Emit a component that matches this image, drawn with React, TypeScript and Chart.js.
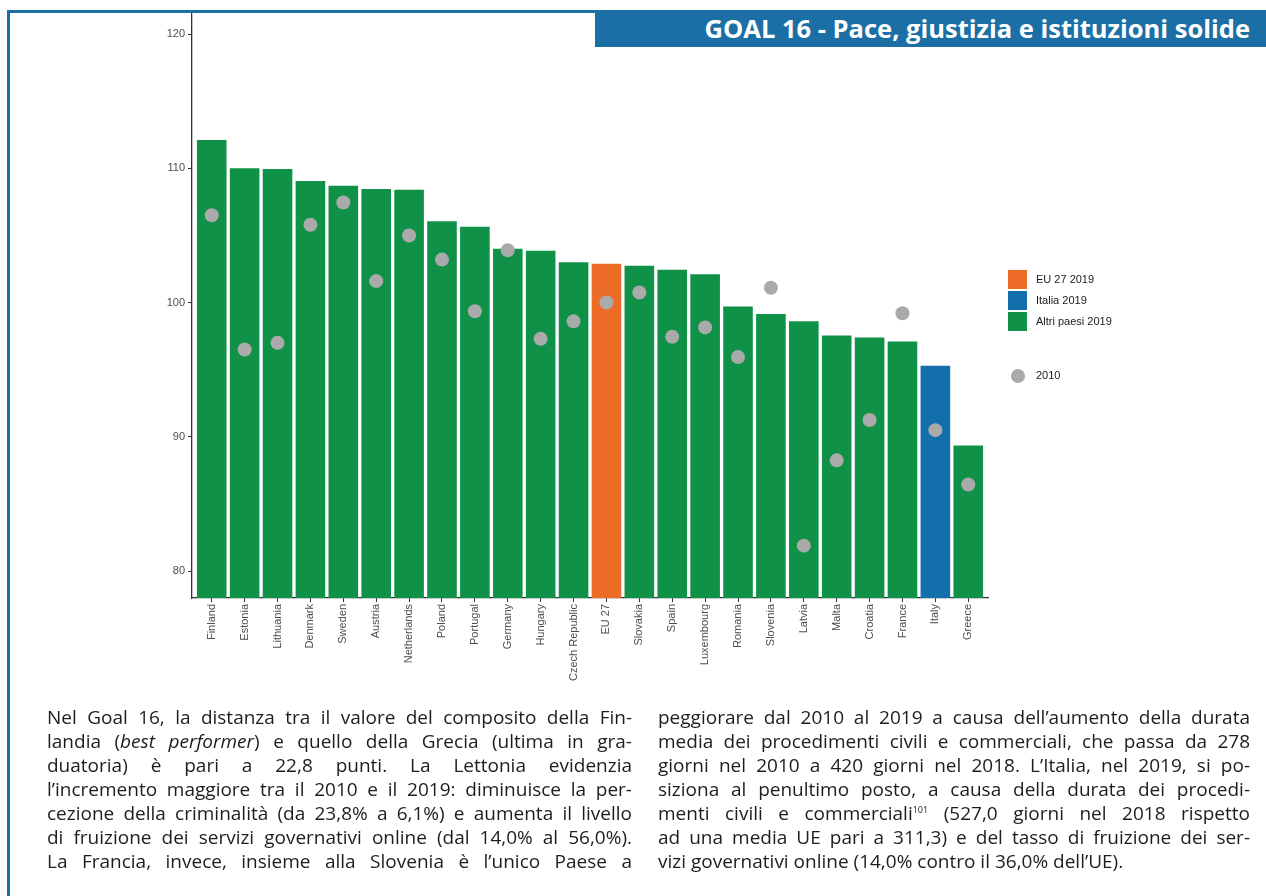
import React, { useEffect, useRef } from 'react';
import { Chart, registerables } from 'chart.js';

Chart.register(...registerables);

const categories = [
  'Finland', 'Estonia', 'Lithuania', 'Denmark', 'Sweden', 'Austria', 'Netherlands',
  'Poland', 'Portugal', 'Germany', 'Hungary', 'Czech Republic', 'EU 27', 'Slovakia',
  'Spain', 'Luxembourg', 'Romania', 'Slovenia', 'Latvia', 'Malta', 'Croatia', 'France',
  'Italy', 'Greece',
];

const values2019 = [
  112.1, 110.0, 109.95, 109.05, 108.7, 108.45, 108.4, 106.05, 105.65, 104.0, 103.85, 103.0,
  102.9, 102.75, 102.45, 102.1, 99.7, 99.15, 98.6, 97.55, 97.4, 97.1, 95.3, 89.35,
];

const values2010 = [
  106.5, 96.5, 97.0, 105.8, 107.45, 101.6, 105.0, 103.2, 99.35, 103.9, 97.3, 98.6,
  100.0, 100.75, 97.45, 98.15, 95.95, 101.1, 81.9, 88.25, 91.25, 99.2, 90.5, 86.45,
];

// group of each bar: 'eu' = EU 27 2019, 'it' = Italia 2019, 'other' = Altri paesi 2019
const groups = [
  'other', 'other', 'other', 'other', 'other', 'other', 'other', 'other', 'other', 'other',
  'other', 'other', 'eu', 'other', 'other', 'other', 'other', 'other', 'other', 'other',
  'other', 'other', 'it', 'other',
];

const yTicks = [80, 90, 100, 110, 120];

const GREEN = '#0f9147';
const ORANGE = '#eb6b27';
const BLUE = '#126fab';
const DOT = '#aaaaaa';
const FRAME = '#1b6fa5';

const groupColor: Record<string, string> = { eu: ORANGE, it: BLUE, other: GREEN };

const legendLabels = ['EU 27 2019', 'Italia 2019', 'Altri paesi 2019'];
const legendColors = [ORANGE, BLUE, GREEN];
const dotLabel = '2010';

const title = 'GOAL 16 - Pace, giustizia e istituzioni solide';

const leftLines: React.ReactNode[] = [
  'Nel Goal 16, la distanza tra il valore del composito della Fin-',
  <>landia (<i>best performer</i>) e quello della Grecia (ultima in gra-</>,
  'duatoria) è pari a 22,8 punti. La Lettonia evidenzia',
  'l’incremento maggiore tra il 2010 e il 2019: diminuisce la per-',
  'cezione della criminalità (da 23,8% a 6,1%) e aumenta il livello',
  'di fruizione dei servizi governativi online (dal 14,0% al 56,0%).',
  'La Francia, invece, insieme alla Slovenia è l’unico Paese a',
];

const rightLines: React.ReactNode[] = [
  'peggiorare dal 2010 al 2019 a causa dell’aumento della durata',
  'media dei procedimenti civili e commerciali, che passa da 278',
  'giorni nel 2010 a 420 giorni nel 2018. L’Italia, nel 2019, si po-',
  'siziona al penultimo posto, a causa della durata dei procedi-',
  <>menti civili e commerciali<sup style={{ fontSize: '9px', verticalAlign: '7px', lineHeight: 0 }}>101</sup> (527,0 giorni nel 2018 rispetto</>,
  'ad una media UE pari a 311,3) e del tasso di fruizione dei ser-',
  'vizi governativi online (14,0% contro il 36,0% dell’UE).',
];

const CANVAS_W = 1266;
const CANVAS_H = 700;
const AREA_LEFT = 192;
const AREA_RIGHT = 988;
const AREA_TOP = 10.5;
const AREA_BOTTOM = 598;

function TextColumn({ lines, left, width, lastJustified }: { lines: React.ReactNode[]; left: number; width: number; lastJustified: boolean }) {
  return (
    <div style={{ position: 'absolute', left, top: 705, width, fontFamily: '"Open Sans", "Noto Sans", sans-serif', fontSize: '19px', color: '#1d1d1b' }}>
      {lines.map((l, i) => {
        const justify = i < lines.length - 1 || lastJustified;
        return (
          <div
            key={i}
            style={{
              height: 24,
              lineHeight: '24px',
              whiteSpace: 'nowrap',
              textAlign: justify ? 'justify' : 'left',
              textAlignLast: justify ? 'justify' : 'left',
            } as React.CSSProperties}
          >
            {l}
          </div>
        );
      })}
    </div>
  );
}

export default function App() {
  const canvasRef = useRef<HTMLCanvasElement | null>(null);

  useEffect(() => {
    const canvas = canvasRef.current;
    if (!canvas) return;
    const tickFont = { family: '"Liberation Sans", Arial, sans-serif', size: 11 };
    const chart = new Chart(canvas, {
      type: 'bar',
      data: {
        datasets: [
          {
            type: 'scatter' as any,
            label: dotLabel,
            data: values2010.map((v, i) => ({ x: i, y: v })),
            pointRadius: 7,
            pointHoverRadius: 7,
            pointBackgroundColor: DOT,
            pointBorderWidth: 0,
            backgroundColor: DOT,
            order: 0,
          } as any,
          {
            type: 'bar',
            label: '2019',
            data: values2019.map((v, i) => ({ x: i, y: v })),
            backgroundColor: groups.map((g) => groupColor[g]),
            borderWidth: 0,
            barPercentage: 0.9,
            categoryPercentage: 1,
            order: 1,
          } as any,
        ],
      },
      options: {
        responsive: false,
        animation: false,
        devicePixelRatio: 1,
        layout: { padding: { left: 0, right: CANVAS_W - AREA_RIGHT, top: AREA_TOP, bottom: 0 } },
        plugins: { legend: { display: false }, tooltip: { enabled: false } },
        scales: {
          x: {
            type: 'linear',
            min: -0.6,
            max: categories.length - 0.4,
            offset: false,
            afterBuildTicks: (scale: any) => {
              scale.ticks = categories.map((_, i) => ({ value: i }));
            },
            afterFit: (scale: any) => {
              scale.height = CANVAS_H - AREA_BOTTOM;
            },
            ticks: {
              autoSkip: false,
              minRotation: 90,
              maxRotation: 90,
              padding: 2,
              color: '#4d4d4d',
              font: tickFont,
              callback: (v: any) => categories[Math.round(Number(v))] ?? '',
            },
            grid: { display: true, drawOnChartArea: false, drawTicks: true, tickLength: 4, color: '#333333', lineWidth: 1, offset: false },
            border: { display: true, color: '#333333', width: 1.3 },
          },
          y: {
            type: 'linear',
            min: 78,
            max: 121.75,
            beginAtZero: false,
            afterBuildTicks: (scale: any) => {
              scale.ticks = yTicks.map((v) => ({ value: v }));
            },
            afterFit: (scale: any) => {
              scale.width = AREA_LEFT;
            },
            ticks: { padding: 3, color: '#4d4d4d', font: tickFont },
            grid: { display: true, drawOnChartArea: false, drawTicks: true, tickLength: 4, color: '#333333', lineWidth: 1 },
            border: { display: true, color: '#333333', width: 1.3 },
          },
        },
      } as any,
    });
    return () => chart.destroy();
  }, []);

  return (
    <div style={{ position: 'absolute', left: 0, top: 0, width: 1266, height: 896, overflow: 'hidden', background: '#ffffff' }}>
      <canvas
        ref={canvasRef}
        width={CANVAS_W}
        height={CANVAS_H}
        style={{ position: 'absolute', left: 0, top: 0, width: CANVAS_W, height: CANVAS_H }}
      />
      {/* frame */}
      <div style={{ position: 'absolute', left: 7, top: 10, width: 1400, height: 1000, borderLeft: `3px solid ${FRAME}`, borderTop: `3px solid ${FRAME}` }} />
      {/* title banner */}
      <div
        style={{
          position: 'absolute', left: 595, top: 10, width: 671, height: 37, background: FRAME,
          color: '#ffffff', fontFamily: '"Open Sans", "Noto Sans", sans-serif', fontWeight: 700, fontSize: '25.5px',
          lineHeight: '37px', textAlign: 'right', paddingRight: 16, boxSizing: 'border-box', whiteSpace: 'nowrap',
        }}
      >
        {title}
      </div>
      {/* legend */}
      <div style={{ position: 'absolute', left: 1008, top: 270, fontFamily: '"Liberation Sans", Arial, sans-serif', fontSize: '11px', color: '#1a1a1a' }}>
        {legendLabels.map((lab, i) => (
          <div key={lab} style={{ position: 'absolute', left: 0, top: i * 21, width: 200, height: 19 }}>
            <div style={{ position: 'absolute', left: 0, top: 0, width: 19, height: 19, background: legendColors[i] }} />
            <div style={{ position: 'absolute', left: 28, top: 0, lineHeight: '19px' }}>{lab}</div>
          </div>
        ))}
        <div style={{ position: 'absolute', left: 0, top: 96, width: 200, height: 19 }}>
          <div style={{ position: 'absolute', left: 3, top: 2.5, width: 14, height: 14, borderRadius: '50%', background: DOT }} />
          <div style={{ position: 'absolute', left: 28, top: 0, lineHeight: '19px' }}>{dotLabel}</div>
        </div>
      </div>
      <TextColumn lines={leftLines} left={47} width={585} lastJustified={true} />
      <TextColumn lines={rightLines} left={658} width={592} lastJustified={false} />
    </div>
  );
}
